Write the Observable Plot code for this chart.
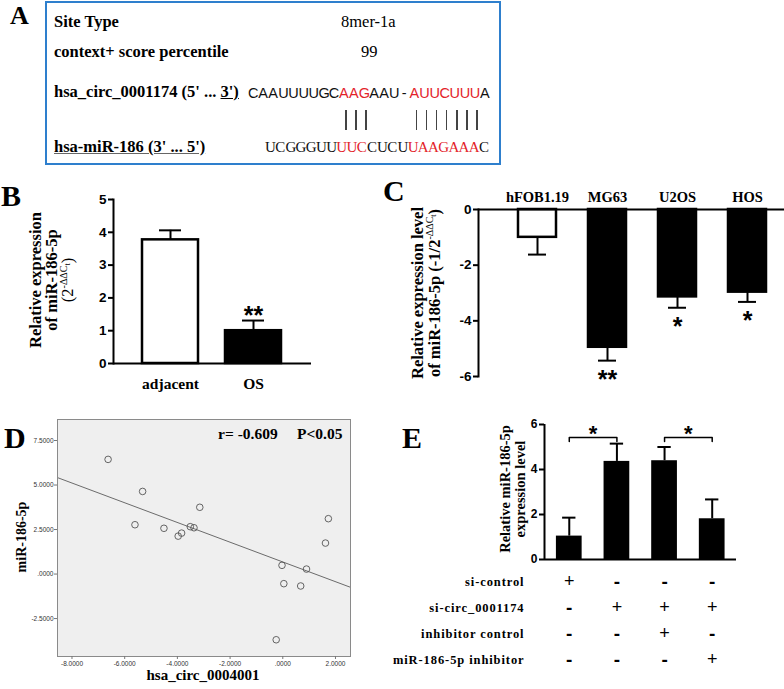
<!DOCTYPE html>
<html><head><meta charset="utf-8">
<script src="https://cdn.jsdelivr.net/npm/d3@7"></script>
<script src="https://cdn.jsdelivr.net/npm/@observablehq/plot@0.6"></script>
<style>
html,body{margin:0;padding:0;background:#fff;}
#root{position:relative;width:784px;height:689px;overflow:hidden;background:#fff;}
.abs{position:absolute;white-space:nowrap;}
.wrap{position:absolute;}
.wrap svg{display:block;max-width:none;}
#tbl [aria-label="y-axis tick label"] text{letter-spacing:0.9px;}
</style></head><body><div id="root"></div>
<script>
// ---------- Panel A data ----------
const siteTypeLabel = "Site Type";
const siteType = "8mer-1a";
const percentileLabel = "context+ score percentile";
const percentile = "99";
const circSeq = "CAAUUUUGCAAGAAU-AUUCUUUA";
const mirSeq = "UCGGGUUUUCCUCUUAAGAAAC";
const circRed = [9,10,11,16,17,18,19,20,21,22];
const mirRed = [7,8,9,14,15,16,17,18,19,20];
const pairIdx = [9,10,11,16,17,18,19,20,21,22];

// ---------- Panel B data ----------
const bGroups = ["adjacent", "OS"];
const bMeans = [3.77, 1.0];
const bErrs = [4.06, 1.31];
const bSig = ["", "**"];
const bTicks = [0, 1, 2, 3, 4, 5];

// ---------- Panel C data ----------
const cLines = ["hFOB1.19", "MG63", "U2OS", "HOS"];
const cMeans = [-1.0, -4.95, -3.14, -2.97];
const cErrs = [-1.62, -5.43, -3.53, -3.32];
const cSig = ["", "**", "*", "*"];
const cTicks = [0, -2, -4, -6];

// ---------- Panel D data ----------
const dCirc = [-6.63, -5.32, -5.61, -4.51, -3.97, -3.84, -3.51, -3.37, -3.15, -0.03, 0.04, 0.90, 0.68, -0.25, 1.62, 1.73];
const dMir  = [ 6.44,  4.64,  2.77,  2.57,  2.13,  2.30,  2.66,  2.60,  3.75,  0.49, -0.54, 0.28, -0.67, -3.69, 1.74, 3.11];
const dFitIntercept = 0.68;
const dFitSlope = -0.554;
const dR = "-0.609";
const dP = "P<0.05";
const dXDomain = [-8.55, 2.57];
const dYDomain = [-4.63, 8.68];
const dXTicks = [-8, -6, -4, -2, 0, 2];
const dYTicks = [-2.5, 0, 2.5, 5, 7.5];

// ---------- Panel E data ----------
const eGroups = ["si-control", "si-circ", "si-circ + inhibitor control", "si-circ + miR-186-5p inhibitor"];
const eMeans = [1.04, 4.36, 4.39, 1.81];
const eErrs = [1.86, 5.15, 5.0, 2.67];
const eTicks = [0, 2, 4, 6];
const eBrackets = [{from: 0, to: 1, y: 5.42, drop: 5.25, label: "*"}, {from: 2, to: 3, y: 5.42, drop: 5.25, label: "*"}];
const eRows = ["si-control", "si-circ_0001174", "inhibitor control", "miR-186-5p inhibitor"];
const eConds = [[1,0,0,0],[0,1,1,1],[0,0,1,0],[0,0,0,1]];

const SANS = "'Liberation Sans', Arial, Helvetica, sans-serif";
const SERIF = "'Liberation Serif', 'Times New Roman', Times, serif";
const root = document.getElementById("root");

function place(node, left, top) {
  const w = document.createElement("div");
  w.className = "wrap";
  w.style.left = left + "px"; w.style.top = top + "px";
  w.appendChild(node);
  root.appendChild(w);
}
function textAt(html, x, y, size, opts = {}) {
  const d = document.createElement("div");
  d.className = "abs";
  d.innerHTML = html;
  const fam = opts.family || SERIF;
  d.style.cssText = `left:${x}px;top:${y - 0.845 * size}px;font-size:${size}px;line-height:${size}px;font-family:${fam};font-weight:${opts.weight || "normal"};color:${opts.color || "#000"};${opts.extra || ""}`;
  if (opts.anchor === "end") d.style.transform = "translateX(-100%)";
  if (opts.anchor === "middle") d.style.transform = "translateX(-50%)";
  root.appendChild(d);
  return d;
}
function rotLabel(lines, cx, cy, size, lh, weight = "bold") {
  const d = document.createElement("div");
  d.className = "abs";
  d.innerHTML = lines.join("<br>");
  d.style.cssText = `left:${cx}px;top:${cy}px;transform:translate(-50%,-50%) rotate(-90deg);text-align:center;font-family:${SERIF};font-size:${size}px;line-height:${lh}px;font-weight:${weight};`;
  root.appendChild(d);
}
const baseStyle = {fontFamily: SANS, fontSize: "13.5px", fontWeight: "bold", background: "transparent", color: "black", overflow: "visible"};

// ---------- Panel B ----------
const bData = bGroups.map((g, i) => ({g, m: bMeans[i], e: bErrs[i], s: bSig[i], f: i === 0 ? "white" : "black"}));
place(Plot.plot({
  width: 320, height: 220, marginLeft: 113, marginRight: 9, marginTop: 19, marginBottom: 37,
  style: baseStyle,
  color: {type: "identity"},
  x: {domain: bGroups, paddingInner: 0.32, paddingOuter: 0.34},
  y: {domain: [0, 5]},
  marks: [
    Plot.ruleX(bData, {x: "g", y1: "m", y2: "e", stroke: "black", strokeWidth: 2}),
    Plot.tickY(bData, {x: "g", y: "e", stroke: "black", strokeWidth: 2, insetLeft: 17, insetRight: 17}),
    Plot.barY(bData, {x: "g", y: "m", fill: "f", stroke: "black", strokeWidth: 2.5}),
    Plot.text(bData, {x: "g", y: "e", text: "s", dy: -5, fontSize: 25, fontWeight: "bold"}),
    Plot.ruleY([0], {stroke: "black", strokeWidth: 2}),
    Plot.frame({anchor: "left", stroke: "black", strokeWidth: 2}),
    Plot.axisY({ticks: bTicks, tickSize: 5, tickPadding: 2, strokeWidth: 2, tickFormat: d => String(d), label: null}),
    Plot.axisX({tickSize: 0, tickPadding: 14, fontFamily: SERIF, fontSize: 15.5, fontWeight: "bold", label: null})
  ]
}), 0, 180);

// ---------- Panel C ----------
const cData = cLines.map((g, i) => ({g, m: cMeans[i], e: cErrs[i], s: cSig[i], f: i === 0 ? "white" : "black"}));
place(Plot.plot({
  width: 370, height: 215, marginLeft: 38, marginRight: 5, marginTop: 29, marginBottom: 19,
  style: baseStyle,
  color: {type: "identity"},
  x: {domain: cLines, paddingInner: 0.46, paddingOuter: 0.545},
  y: {domain: [-6, 0]},
  marks: [
    Plot.ruleX(cData, {x: "g", y1: "m", y2: "e", stroke: "black", strokeWidth: 2}),
    Plot.tickY(cData, {x: "g", y: "e", stroke: "black", strokeWidth: 2, insetLeft: 10, insetRight: 10}),
    Plot.barY(cData, {x: "g", y: "m", fill: "f", stroke: "black", strokeWidth: 2.5}),
    Plot.text(cData, {x: "g", y: "e", text: "s", dy: 19, fontSize: 25, fontWeight: "bold"}),
    Plot.ruleY([0], {stroke: "black", strokeWidth: 2}),
    Plot.frame({anchor: "left", stroke: "black", strokeWidth: 2}),
    Plot.axisY({ticks: cTicks, tickSize: 5, tickPadding: 2, strokeWidth: 2, tickFormat: d => String(d), label: null}),
    Plot.axisX({anchor: "top", tickSize: 0, tickPadding: 8, fontFamily: SERIF, fontSize: 14.5, fontWeight: "bold", label: null})
  ]
}), 440, 180);

// ---------- Panel D ----------
const dData = dCirc.map((x, i) => ({x, y: dMir[i]}));
const dFit = dXDomain.map(x => ({x, y: dFitIntercept + dFitSlope * x}));
const dFmt = d => d === 0 ? ".0000" : d.toFixed(4);
place(Plot.plot({
  width: 370, height: 289, marginLeft: 57, marginRight: 20, marginTop: 19, marginBottom: 33,
  style: {fontFamily: SANS, fontSize: "6.5px", fontWeight: "normal", background: "transparent", color: "#333", overflow: "visible"},
  x: {domain: dXDomain},
  y: {domain: dYDomain},
  marks: [
    Plot.frame({fill: "#efefef", stroke: "none"}),
    Plot.line(dFit, {x: "x", y: "y", stroke: "#6b6b6b", strokeWidth: 1}),
    Plot.dot(dData, {x: "x", y: "y", r: 3.3, stroke: "#555", strokeWidth: 0.9, fill: "none"}),
    Plot.text([`r= ${dR}\u00a0\u00a0\u00a0\u00a0\u00a0${dP}`], {frameAnchor: "top-right", dx: -8, dy: 8, lineAnchor: "top", textAnchor: "end", fontFamily: SERIF, fontWeight: "bold", fontSize: 15.5, fill: "black"}),
    Plot.frame({stroke: "#8a8a8a", strokeWidth: 1}),
    Plot.axisX({ticks: dXTicks, tickSize: 3, tickPadding: 2, tickFormat: dFmt, stroke: "#777", label: null}),
    Plot.axisY({ticks: dYTicks, tickSize: 3, tickPadding: 1, tickFormat: dFmt, stroke: "#777", label: null})
  ]
}), 0, 400);

// ---------- Panel E ----------
const eXDomain = [-0.52, 3.51];
const eHalf = 0.27, eCap = 0.14;
const eData = eGroups.map((g, i) => ({i, m: eMeans[i], e: eErrs[i]}));
const eBracketPts = eBrackets.flatMap((b, k) => [
  {k, x: b.from, y: b.drop}, {k, x: b.from, y: b.y}, {k, x: b.to, y: b.y}, {k, x: b.to, y: b.drop}
]);
place(Plot.plot({
  width: 244, height: 170, marginLeft: 44, marginRight: 8, marginTop: 24, marginBottom: 11,
  style: baseStyle,
  x: {domain: eXDomain, axis: null},
  y: {domain: [0, 6]},
  marks: [
    Plot.ruleX(eData, {x: "i", y1: "m", y2: "e", stroke: "black", strokeWidth: 2}),
    Plot.ruleY(eData, {y: "e", x1: d => d.i - eCap, x2: d => d.i + eCap, stroke: "black", strokeWidth: 2}),
    Plot.rectY(eData, {x1: d => d.i - eHalf, x2: d => d.i + eHalf, y: "m", fill: "black"}),
    Plot.line(eBracketPts, {x: "x", y: "y", z: "k", stroke: "black", strokeWidth: 1.5}),
    Plot.text(eBrackets, {x: d => (d.from + d.to) / 2, y: "y", text: "label", dy: -4, fontSize: 22, fontWeight: "bold"}),
    Plot.ruleY([0], {stroke: "black", strokeWidth: 2}),
    Plot.ruleX([eXDomain[0]], {stroke: "black", strokeWidth: 2}),
    Plot.axisY({ticks: eTicks, tickSize: 5, tickPadding: 2, strokeWidth: 2, fontSize: 12, tickFormat: d => String(d), label: null})
  ]
}), 500, 400);

// ---------- Panel E condition table ----------
const tblData = eRows.flatMap((r, ri) => eConds[ri].map((v, i) => ({row: r, i, sign: v ? "+" : "-"})));
const tbl = Plot.plot({
  width: 344, height: 110, marginLeft: 144, marginRight: 8, marginTop: 2, marginBottom: 2,
  style: {fontFamily: SANS, fontSize: "13px", background: "transparent", color: "black", overflow: "visible"},
  x: {domain: eXDomain, axis: null},
  y: {type: "point", domain: eRows, padding: 0.5},
  marks: [
    Plot.text(tblData.filter(d => d.sign === "+"), {x: "i", y: "row", text: "sign", fontSize: 18, fontWeight: "normal"}),
    Plot.text(tblData.filter(d => d.sign === "-"), {x: "i", y: "row", text: "sign", fontSize: 19, fontWeight: "bold"}),
    Plot.axisY({tickSize: 0, tickPadding: 20, fontFamily: SERIF, fontSize: 12.5, fontWeight: "bold", label: null})
  ]
});
const tw = document.createElement("div"); tw.id = "tbl"; tw.appendChild(tbl);
place(tw, 400, 565);

// ---------- Panel A (sequence box) ----------
const box = document.createElement("div");
box.className = "abs";
box.style.cssText = "left:45px;top:1px;width:452px;height:160px;border:2.5px solid #2e7fcd;";
root.appendChild(box);
textAt(siteTypeLabel, 54, 28, 16.5, {weight: "bold"});
textAt(siteType, 341, 28, 16.5);
textAt(percentileLabel, 54, 58, 16.5, {weight: "bold"});
textAt(percentile, 361, 58, 16.5);
textAt("hsa_circ_0001174 (5' ... <u>3')</u>", 54, 98, 16.5, {weight: "bold"});
textAt("<span style='text-decoration:underline;text-decoration-color:#666'>hsa-miR-186 (3' ... 5')</span>", 54, 153, 16.5, {weight: "bold"});
function seqRow(seq, red, x, y, cell, size, fam) {
  const html = [...seq].map((c, i) => `<span style="display:inline-block;width:${cell}px;text-align:center;color:${red.includes(i) ? "#e3232a" : "#111"}">${c}</span>`).join("");
  textAt(html, x, y, size, {family: fam});
}
const cell1 = 10.08, cell2 = 10.2;
seqRow(circSeq, circRed, 248, 98, cell1, 14.5, SANS);
seqRow(mirSeq, mirRed, 265, 153, cell2, 15, SERIF);
pairIdx.forEach(i => {
  const l = document.createElement("div");
  l.className = "abs";
  l.style.cssText = `left:${248 + cell1 * (i + 0.5) + 1.5}px;top:110px;width:1.4px;height:20px;background:#444;`;
  root.appendChild(l);
});

// ---------- Panel letters & axis titles ----------
const L = (t, x, y, s = 30) => textAt(t, x, y, s, {weight: "bold"});
L("A", 10, 25, 26);
L("B", 1, 206);
L("C", 383, 201);
L("D", 4, 448);
L("E", 402, 448);

rotLabel(["Relative expression", "of miR-186-5p", "<span style='font-weight:normal'>(2<span style='font-size:10px;vertical-align:super;line-height:0'>-ΔΔC<span style='font-size:8px;vertical-align:sub;line-height:0'>t</span></span>)</span>"], 52, 280, 16.5, 16);
rotLabel(["Relative expression level", "of miR-186-5p (-1/2<span style='font-size:10px;vertical-align:super;line-height:0;font-weight:normal'>-ΔΔC<span style='font-size:8px;vertical-align:sub;line-height:0'>t</span></span>)"], 426, 293, 16.5, 16.5);
rotLabel(["miR-186-5p"], 22, 537, 14, 14);
textAt("hsa_circ_0004001", 203, 681, 15, {weight: "bold", anchor: "middle"});
rotLabel(["Relative miR-186-5p", "expression level"], 512.5, 489, 14.5, 15);
</script></body></html>
